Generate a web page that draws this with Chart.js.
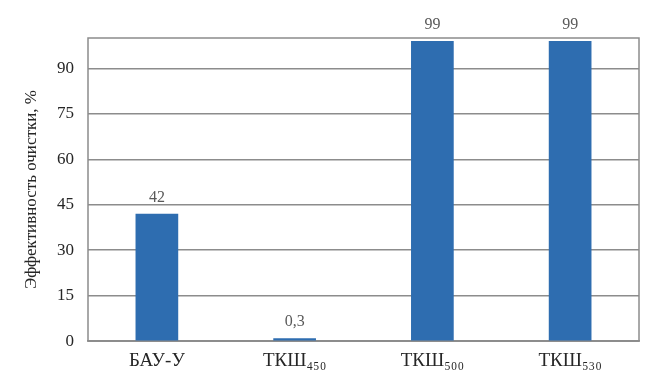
<!DOCTYPE html>
<html>
<head>
<meta charset="utf-8">
<script src="https://cdn.jsdelivr.net/npm/chart.js@4"></script>
<style>
  html, body { margin: 0; padding: 0; background: #fff; }
  #wrap { width: 657px; height: 389px; }
</style>
</head>
<body>
<div id="wrap"><canvas id="c" width="657" height="389"></canvas></div>
<script>
var categories = ['БАУ-У', 'ТКШ₄₅₀', 'ТКШ₅₀₀', 'ТКШ₅₃₀'];
var values = [42, 0.3, 99, 99];
var yTicks = [0, 15, 30, 45, 60, 75, 90];
var yTitle = 'Эффективность очистки, %';

var serif = '"Liberation Serif", "Times New Roman", serif';

// labels above the bars, comma as decimal separator
var valueLabels = {
    id: 'valueLabels',
    afterDatasetsDraw: function (chart) {
        var ctx = chart.ctx;
        var meta = chart.getDatasetMeta(0);
        ctx.save();
        ctx.fillStyle = '#595959';
        ctx.font = '16px ' + serif;
        ctx.textAlign = 'center';
        ctx.textBaseline = 'bottom';
        meta.data.forEach(function (bar, i) {
            var txt = String(values[i]).replace('.', ',');
            ctx.fillText(txt, bar.x, bar.y - 8);
        });
        ctx.restore();
    }
};

// grey frame round the plot area
var frame = {
    id: 'frame',
    beforeDatasetsDraw: function (chart) {
        var a = chart.chartArea;
        var ctx = chart.ctx;
        ctx.save();
        ctx.strokeStyle = '#8c8c8c';
        ctx.lineWidth = 1.5;
        ctx.strokeRect(a.left, a.top, a.right - a.left, a.bottom - a.top);
        ctx.restore();
    }
};

var chart = new Chart(document.getElementById('c').getContext('2d'), {
    type: 'bar',
    data: {
        labels: categories,
        datasets: [
            {
                data: values,
                backgroundColor: '#2e6db0',
                borderWidth: 0,
                barPercentage: 0.31,
                categoryPercentage: 1,
                minBarLength: 3
            }
        ]
    },
    options: {
        responsive: false,
        animation: false,
        layout: {
            padding: { left: 19, right: 18, top: 38, bottom: 17 }
        },
        plugins: {
            legend: { display: false },
            tooltip: { enabled: false }
        },
        scales: {
            x: {
                grid: { display: false },
                border: { color: '#8c8c8c', width: 1.5 },
                ticks: {
                    color: '#262626',
                    font: { family: serif, size: 19 },
                    padding: 0
                }
            },
            y: {
                min: 0,
                max: 100,
                afterFit: function (s) { s.width = 69; },
                afterBuildTicks: function (s) {
                    s.ticks = yTicks.map(function (v) { return { value: v }; });
                },
                grid: { color: '#8c8c8c', lineWidth: 1.5, drawTicks: false },
                border: { display: false },
                ticks: {
                    color: '#262626',
                    font: { family: serif, size: 17 },
                    padding: 14
                },
                title: {
                    display: true,
                    text: yTitle,
                    color: '#262626',
                    font: { family: serif, size: 17 },
                    padding: 2
                }
            }
        }
    },
    plugins: [frame, valueLabels]
});
</script>
</body>
</html>
